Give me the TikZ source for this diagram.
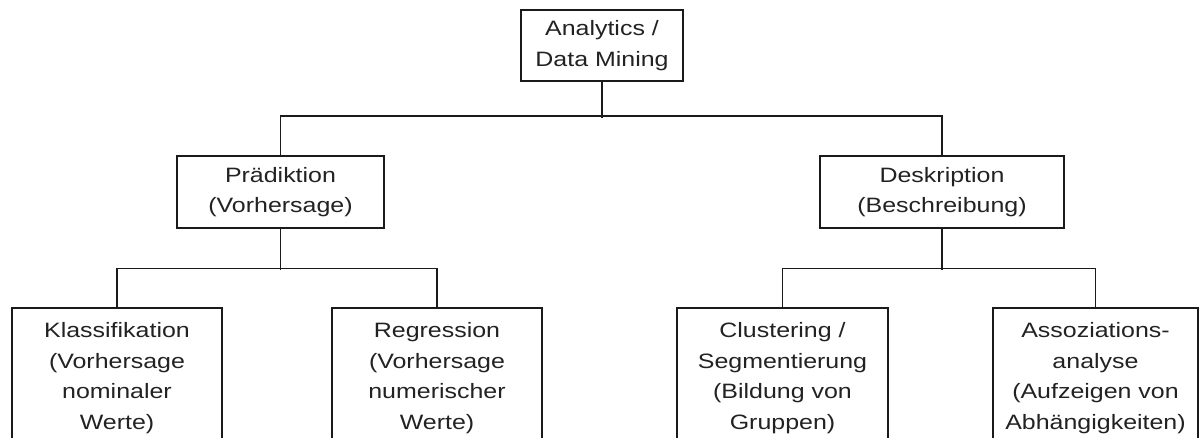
\documentclass[tikz,border=0pt]{standalone}
\usepackage{fontspec}
\setmainfont[FakeStretch=1.2]{Liberation Sans}
\definecolor{txt}{HTML}{222222}
\definecolor{ln}{HTML}{1A1A1A}
\begin{document}
\begin{tikzpicture}[x=1pt,y=-1pt,
  box/.style={draw=ln,line width=1.4pt,fill=white,inner sep=0pt,align=center,
    text=txt,font=\fontsize{20.8}{30.5}\selectfont},
  conn/.style={draw=ln,line width=1.6pt}]
\useasboundingbox (0,0) rectangle (1201,438);
\clip (0,0) rectangle (1201,438);
\fill[white] (0,0) rectangle (1201,438);
% top
\node[box,minimum width=162pt,minimum height=71pt] (top) at (602,45.5) {Analytics /\\Data Mining};
% middle
\node[box,minimum width=207pt,minimum height=72pt] (pred) at (280.5,192) {Prädiktion\\(Vorhersage)};
\node[box,minimum width=244pt,minimum height=72pt] (desk) at (942,192) {Deskription\\(Beschreibung)};
% bottom
\node[box,minimum width=210pt,minimum height=140pt] (klass) at (117,378) {Klassifikation\\(Vorhersage\\nominaler\\Werte)};
\node[box,minimum width=210pt,minimum height=140pt] (regr) at (437,378) {Regression\\(Vorhersage\\numerischer\\Werte)};
\node[box,minimum width=211pt,minimum height=140pt] (clus) at (782.5,378) {Clustering /\\Segmentierung\\(Bildung von\\Gruppen)};
\node[box,minimum width=205pt,minimum height=140pt] (asso) at (1095.5,378) {Assoziations-\\analyse\\(Aufzeigen von\\Abhängigkeiten)};
% connectors
\draw[conn] (top.south) -- ++(0,36);
\draw[conn] (pred.north) -- ++(0,-39) -| (desk.north);
\draw[conn] (pred.south) -- ++(0,41);
\draw[conn] (klass.north) -- ++(0,-39) -| (regr.north);
\draw[conn] (desk.south) -- ++(0,41);
\draw[conn] (clus.north) -- ++(0,-39) -| (asso.north);
\end{tikzpicture}
\end{document}
